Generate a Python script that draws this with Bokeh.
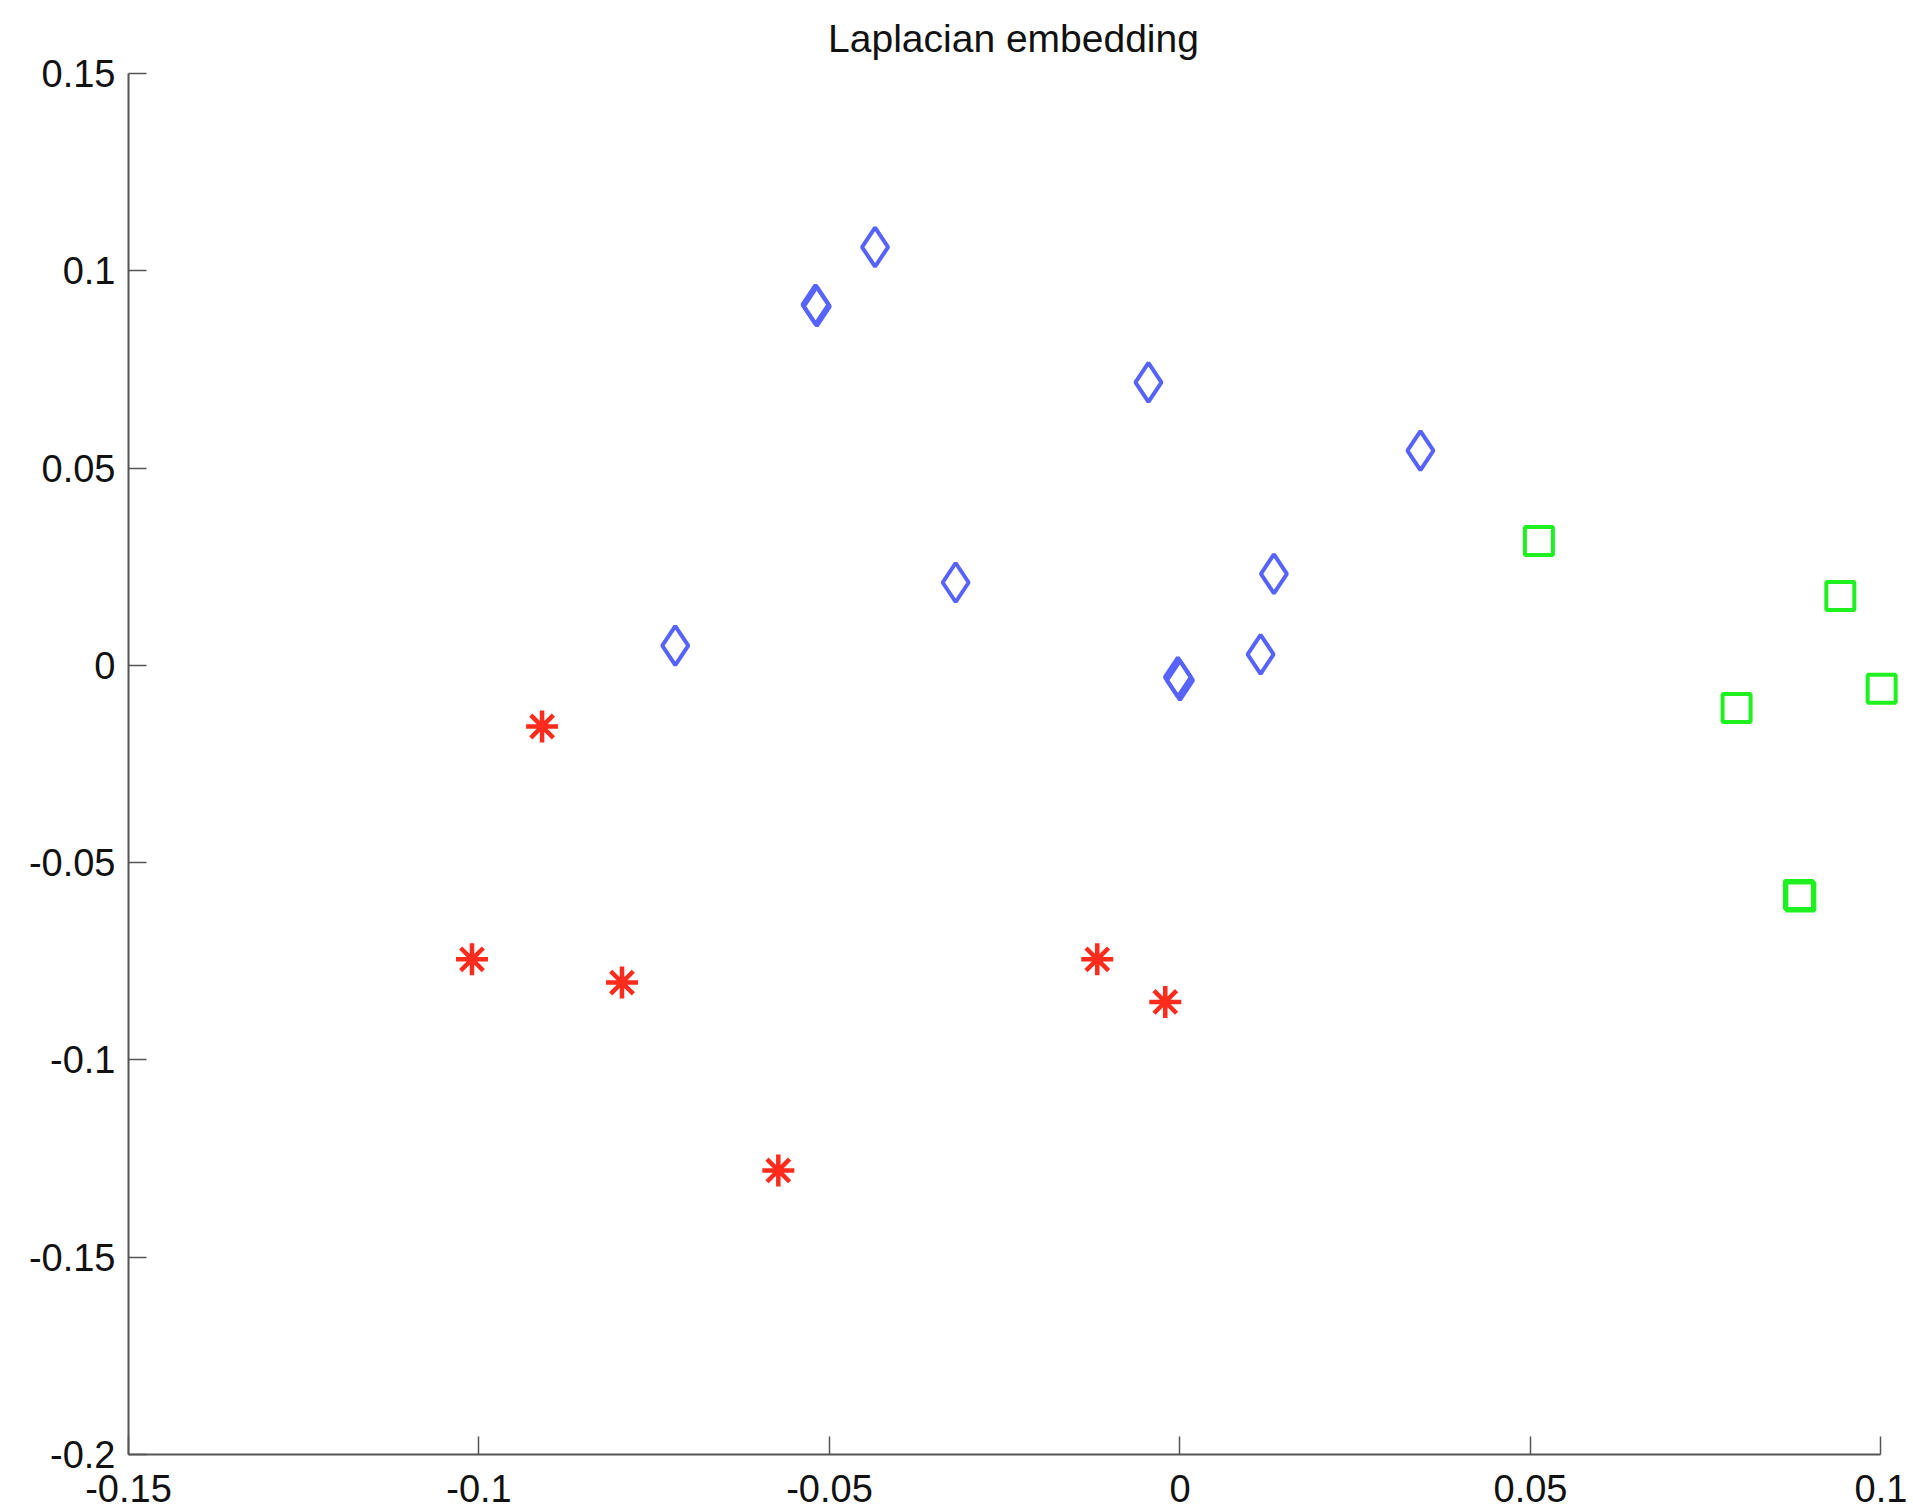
from bokeh.plotting import figure
from bokeh.models import Range1d, FixedTicker
from bokeh.embed import file_html
from bokeh.resources import INLINE

# Cluster 1 (blue diamonds)
blue_x = [-0.0435, -0.0520, -0.0518, -0.0045, 0.0343, -0.0320, -0.0720, 0.0134, 0.0115, -0.0003, 0.0000]
blue_y = [0.1060, 0.0914, 0.0910, 0.0717, 0.0544, 0.0210, 0.0050, 0.0232, 0.0028, -0.0030, -0.0038]
# Cluster 2 (green squares)
green_x = [0.0512, 0.0942, 0.1001, 0.0794, 0.0883, 0.0885]
green_y = [0.0315, 0.0176, -0.0059, -0.0108, -0.0582, -0.0586]
# Cluster 3 (red asterisks)
red_x = [-0.0910, -0.1010, -0.0796, -0.0573, -0.0118, -0.0021]
red_y = [-0.0155, -0.0745, -0.0804, -0.1280, -0.0745, -0.0853]

x_ticks = [-0.15, -0.1, -0.05, 0, 0.05, 0.1]
y_ticks = [-0.2, -0.15, -0.1, -0.05, 0, 0.05, 0.1, 0.15]
x_labels = {-0.15: "-0.15", -0.1: "-0.1", -0.05: "-0.05", 0: "0", 0.05: "0.05", 0.1: "0.1"}
y_labels = {-0.2: "-0.2", -0.15: "-0.15", -0.1: "-0.1", -0.05: "-0.05", 0: "0",
            0.05: "0.05", 0.1: "0.1", 0.15: "0.15"}
title_text = "Laplacian embedding"

FONT = "Liberation Sans"

# x range slightly wider than the axis so edge markers are not clipped
p = figure(width=1913, height=1510, output_backend="svg", toolbar_location=None,
           x_range=Range1d(-0.15, 0.1025), y_range=Range1d(-0.2, 0.15),
           title=title_text,
           min_border_left=128, min_border_right=15, min_border_top=73, min_border_bottom=56)

p.outline_line_color = None
p.grid.visible = False
p.background_fill_color = "white"
p.border_fill_color = "white"

p.title.align = "center"
p.title.text_font = FONT
p.title.text_font_size = "39px"
p.title.text_font_style = "normal"
p.title.text_color = "#111111"
p.title.standoff = 27

for ax, ticks, labels in ((p.xaxis[0], x_ticks, x_labels), (p.yaxis[0], y_ticks, y_labels)):
    ax.ticker = FixedTicker(ticks=ticks)
    ax.major_label_overrides = labels
    ax.minor_tick_line_color = None
    ax.major_tick_in = 18
    ax.major_tick_out = 0
    ax.axis_line_color = "#555555"
    ax.axis_line_width = 2
    ax.major_tick_line_color = "#555555"
    ax.major_tick_line_width = 1.5
    ax.major_label_text_font = FONT
    ax.major_label_text_font_size = "38px"
    ax.major_label_text_color = "#111111"

p.xaxis[0].bounds = (-0.15, 0.1)
p.xaxis[0].major_label_standoff = 20
p.yaxis[0].major_label_standoff = 13

p.scatter(blue_x, blue_y, marker="diamond", size=39, fill_color=None,
          line_color="#5663ff", line_width=4)
p.scatter(green_x, green_y, marker="square", size=28, fill_color=None,
          line_color="#1ff01f", line_width=4)
p.scatter(red_x, red_y, marker="asterisk", size=32, line_color="#ff2b1c", line_width=4.5)

open("out.html", "w").write(file_html(p, INLINE))
